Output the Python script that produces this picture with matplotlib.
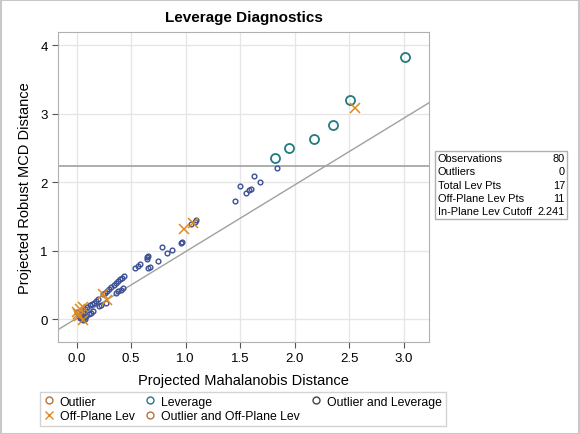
import matplotlib
matplotlib.use("Agg")
import matplotlib.pyplot as plt
from matplotlib.lines import Line2D
from matplotlib.patches import Rectangle

plt.rcParams["font.family"] = ["Liberation Sans", "DejaVu Sans"]

# regular observations (small blue circles)
reg_x = [0.02, 0.04, 0.06, 0.08, 0.10, 0.12, 0.14,
         0.05, 0.07, 0.09, 0.11, 0.13, 0.15, 0.06,
         0.21, 0.22, 0.00, 0.03, 0.16, 0.18, 0.20, 0.24, 0.08, 0.27,
         0.26, 0.28, 0.30, 0.32, 0.34, 0.36, 0.38, 0.40, 0.42, 0.44,
         0.36, 0.38, 0.41, 0.43,
         0.54, 0.56, 0.58, 0.645, 0.65, 0.66, 0.657, 0.672,
         0.745, 0.782, 0.828, 0.877, 0.96, 0.97,
         1.046, 1.083, 1.10,
         1.451, 1.497, 1.555, 1.58, 1.60, 1.626, 1.684, 1.84]
reg_y = [0.05, 0.08, 0.12, 0.15, 0.18, 0.21, 0.22,
         0.00, 0.03, 0.05, 0.07, 0.09, 0.11, -0.01,
         0.19, 0.20, 0.10, 0.02, 0.24, 0.26, 0.30, 0.36, 0.00, 0.24,
         0.38, 0.41, 0.44, 0.47, 0.50, 0.53, 0.55, 0.58, 0.60, 0.63,
         0.385, 0.405, 0.43, 0.45,
         0.746, 0.78, 0.80, 0.877, 0.90, 0.926, 0.75, 0.765,
         0.848, 1.057, 0.96, 1.013, 1.115, 1.13,
         1.39, 1.42, 1.447,
         1.725, 1.94, 1.85, 1.886, 1.905, 2.095, 2.01, 2.21]

# in-plane leverage points
lev_x = [3.01, 2.51, 2.355, 2.175, 1.945, 1.825]
lev_y = [3.83, 3.20, 2.84, 2.63, 2.50, 2.354]

# off-plane leverage points
off_x = [0.00, 0.025, 0.055, 0.03, 0.06, 0.01, 0.24, 0.28, 0.99, 1.067, 2.55]
off_y = [0.107, 0.05, -0.01, 0.146, 0.17, 0.08, 0.37, 0.28, 1.32, 1.40, 3.08]

cutoff = 2.241
ref_intercept = 0.01
ref_slope = 0.975

stat_names = ["Observations", "Outliers", "Total Lev Pts", "Off-Plane Lev Pts",
              "In-Plane Lev Cutoff"]
stat_values = ["80", "0", "17", "11", "2.241"]

blue = "#3a4f96"
teal = "#237a80"
orange = "#e08a1e"
brown = "#b8733c"

fig = plt.figure(figsize=(5.8, 4.35), dpi=100)
ax = fig.add_axes([0.1, 0.2115, 0.64, 0.7115])

ax.axline((0, ref_intercept), slope=ref_slope, color="#a0a0a0", lw=1, zorder=2)
ax.axhline(cutoff, color="#a0a0a0", lw=1.2, zorder=2)

ax.plot(reg_x, reg_y, "o", ms=3.4, mfc="none", mec=blue, mew=1.0, zorder=3)
ax.plot(lev_x, lev_y, "o", ms=6.5, mfc="none", mec=teal, mew=1.3, zorder=4)
ax.plot(off_x, off_y, "x", ms=7, color=orange, mew=1.1, zorder=5)

ax.set_xlim(-0.17, 3.235)
ax.set_ylim(-0.336, 4.19)
ax.set_xticks([0, 0.5, 1.0, 1.5, 2.0, 2.5, 3.0])
ax.set_xticklabels(["0.0", "0.5", "1.0", "1.5", "2.0", "2.5", "3.0"])
ax.set_yticks([0, 1, 2, 3, 4])
ax.grid(True, color="#e6e6e6", lw=1)
ax.set_axisbelow(True)
for s in ax.spines.values():
    s.set_color("#b0b0b0")
ax.tick_params(colors="#555555", labelcolor="black", labelsize=9.5, length=4)

ax.set_xlabel("Projected Mahalanobis Distance", fontsize=10.5, labelpad=6)
ax.set_ylabel("Projected Robust MCD Distance", fontsize=10.5, labelpad=6)
ax.set_title("Leverage Diagnostics", fontsize=11, fontweight="bold", pad=8)

# stats inset box
fig.patches.append(Rectangle((435 / 580, 1 - 220 / 435), 132 / 580, 68 / 435,
                             transform=fig.transFigure, fill=False,
                             ec="#b0b0b0", lw=1))
for i, (n, v) in enumerate(zip(stat_names, stat_values)):
    yy = 1 - (159 + i * 13.3) / 435
    fig.text(438 / 580, yy, n, fontsize=7.9, va="center", ha="left")
    fig.text(565 / 580, yy, v, fontsize=7.9, va="center", ha="right")

handles = [
    Line2D([], [], ls="none", marker="o", ms=5, mfc="none", mec=brown, label="Outlier"),
    Line2D([], [], ls="none", marker="x", ms=6, color=orange, label="Off-Plane Lev"),
    Line2D([], [], ls="none", marker="o", ms=5, mfc="none", mec=teal, label="Leverage"),
    Line2D([], [], ls="none", marker="o", ms=5, mfc="none", mec=brown,
           label="Outlier and Off-Plane Lev"),
    Line2D([], [], ls="none", marker="o", ms=5, mfc="none", mec="#444444",
           label="Outlier and Leverage"),
]
leg = fig.legend(handles=handles, ncol=3, loc="upper left",
                 bbox_to_anchor=(40 / 580, 1 - 393 / 435), fontsize=8.8,
                 frameon=True, fancybox=False, edgecolor="#c8c8c8",
                 handlelength=0.8, handletextpad=0.5, columnspacing=0.9,
                 labelspacing=0.2, borderpad=0.3, borderaxespad=0)
leg.get_frame().set_linewidth(1)

fig.patches.append(Rectangle((0.001, 0.001), 0.997, 0.997, transform=fig.transFigure,
                             fill=False, ec="#c8c8c8", lw=1.5))

fig.savefig("out.png", dpi=100)
